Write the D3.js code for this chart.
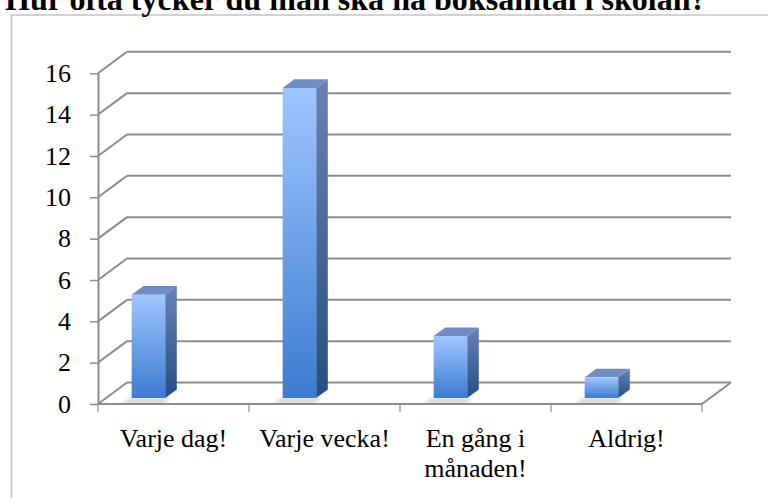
<!DOCTYPE html>
<html>
<head>
<meta charset="utf-8">
<script src="https://cdn.jsdelivr.net/npm/d3@7"></script>
<style>
  body { margin: 0; background: #fff; }
  svg { display: block; }
</style>
</head>
<body>
<svg id="chart" width="768" height="498"></svg>
<script>
// data
const title = "Hur ofta tycker du man ska ha boksamtal i skolan?";
const categories = ["Varje dag!", "Varje vecka!", "En gång i månaden!", "Aldrig!"];
const values = [5, 15, 3, 1];
const yTicks = [0, 2, 4, 6, 8, 10, 12, 14, 16];

let svg = d3.select("#chart"),
    width = 768,
    height = 498;

// front plane of the 3d box + depth vector
const plotLeft = 98, plotRight = 702, plotBottom = 404, plotTop = 73.3;
const dx = 29, dy = -21.5;
const gridColor = "#8c8c8c";
const labelFont = "'Liberation Serif', 'Times New Roman', serif";

let y = d3.scaleLinear().domain([0, 16]).range([plotBottom, plotTop]);
let x = d3.scaleBand().domain(categories).range([plotLeft, plotRight]).padding(0);

let defs = svg.append("defs");
let gFront = defs.append("linearGradient").attr("id", "gFront")
    .attr("x1", 0).attr("y1", 0).attr("x2", 0).attr("y2", 1);
gFront.append("stop").attr("offset", "0%").attr("stop-color", "#9fc6ff");
gFront.append("stop").attr("offset", "100%").attr("stop-color", "#3c7bd0");
let gSide = defs.append("linearGradient").attr("id", "gSide")
    .attr("x1", 0).attr("y1", 0).attr("x2", 0).attr("y2", 1);
gSide.append("stop").attr("offset", "0%").attr("stop-color", "#6783b5");
gSide.append("stop").attr("offset", "100%").attr("stop-color", "#284d84");
defs.append("filter").attr("id", "blur")
    .append("feGaussianBlur").attr("stdDeviation", 1.5);

// outer frame
svg.append("rect")
    .attr("x", 11.5).attr("y", 15)
    .attr("width", 820).attr("height", 600)
    .attr("fill", "none")
    .attr("stroke", "#c3c3c3")
    .attr("stroke-width", 1.5);

// title (cut at the top like in the picture)
let titleText = svg.append("text")
    .attr("x", 5).attr("y", 10)
    .style("font-family", labelFont)
    .style("font-weight", "bold")
    .style("font-size", "32px")
    .attr("fill", "#000")
    .text(title);
// stretch so it ends where the reference one does
let tw = titleText.node().getComputedTextLength();
titleText.style("font-size", (32 * 702 / tw) + "px");

// back wall gridlines and the side wall diagonals
let grid = svg.append("g")
    .attr("stroke", gridColor)
    .attr("stroke-width", 2)
    .attr("fill", "none");

grid.selectAll(".back")
    .data(yTicks)
    .enter()
    .append("line")
    .attr("x1", plotLeft + dx).attr("x2", plotRight + dx)
    .attr("y1", d => y(d) + dy).attr("y2", d => y(d) + dy);

grid.selectAll(".side")
    .data(yTicks)
    .enter()
    .append("line")
    .attr("x1", plotLeft).attr("x2", plotLeft + dx)
    .attr("y1", d => y(d)).attr("y2", d => y(d) + dy);

// floor right edge
grid.append("line")
    .attr("x1", plotRight).attr("x2", plotRight + dx)
    .attr("y1", y(0)).attr("y2", y(0) + dy);

// bars
const barW = x.bandwidth() * 0.222;
const bdx = 11.6, bdy = -8.6;
let bars = svg.append("g").selectAll("g")
    .data(categories.map((c, i) => ({cat: c, value: values[i]})))
    .enter()
    .append("g");

bars.each(function(d) {
    let g = d3.select(this);
    let bx = x(d.cat) + x.bandwidth() * 0.223;
    let yb = y(0) - 6;
    let yt = y(d.value) - 6;

    // soft shadow on the floor
    g.append("polygon")
        .attr("points", [[bx - 2, yb], [bx + barW + 6, yb], [bx + barW - 2, yb + 6], [bx - 10, yb + 6]].join(" "))
        .attr("fill", "#c8c8c8")
        .attr("opacity", 0.7)
        .attr("filter", "url(#blur)");

    g.append("polygon")
        .attr("points", [[bx + barW, yt], [bx + barW + bdx, yt + bdy], [bx + barW + bdx, yb + bdy], [bx + barW, yb]].join(" "))
        .attr("fill", "url(#gSide)");

    g.append("polygon")
        .attr("points", [[bx, yt], [bx + bdx, yt + bdy], [bx + barW + bdx, yt + bdy], [bx + barW, yt]].join(" "))
        .attr("fill", "#6f8dc4");

    g.append("rect")
        .attr("x", bx).attr("y", yt)
        .attr("width", barW).attr("height", yb - yt)
        .attr("fill", "url(#gFront)");
});

// y axis
let yAxis = svg.append("g")
    .attr("transform", `translate(${plotLeft},0)`)
    .call(d3.axisLeft(y).tickValues(yTicks).tickSize(8).tickSizeOuter(0).tickPadding(19));
yAxis.select(".domain").attr("stroke", gridColor).attr("stroke-width", 2);
yAxis.selectAll(".tick line").attr("stroke", gridColor).attr("stroke-width", 1.5);
yAxis.selectAll(".tick text")
    .style("font-family", labelFont)
    .style("font-size", "26px")
    .attr("fill", "#000");

// x axis: floor front edge, ticks between categories, wrapped labels
svg.append("line")
    .attr("x1", plotLeft).attr("x2", plotRight)
    .attr("y1", y(0)).attr("y2", y(0))
    .attr("stroke", gridColor).attr("stroke-width", 2);

let bounds = categories.map(c => x(c)).concat([plotRight]);
svg.append("g").selectAll("line")
    .data(bounds)
    .enter()
    .append("line")
    .attr("x1", d => d).attr("x2", d => d)
    .attr("y1", y(0)).attr("y2", y(0) + 8)
    .attr("stroke", gridColor).attr("stroke-width", 1.2);

let labels = svg.append("g").selectAll("text")
    .data(categories)
    .enter()
    .append("text")
    .attr("x", d => x(d) + x.bandwidth() / 2)
    .attr("y", 447)
    .attr("text-anchor", "middle")
    .style("font-family", labelFont)
    .style("font-size", "26px")
    .attr("fill", "#000")
    .text(d => d);

labels.each(function(d) {
    let t = d3.select(this);
    let words = d.split(" ");
    let maxW = x.bandwidth() - 10;
    t.text(null);
    let lines = [[]], cur = t.append("tspan").attr("x", t.attr("x"));
    words.forEach(w => {
        let line = lines[lines.length - 1];
        line.push(w);
        cur.text(line.join(" "));
        if (cur.node().getComputedTextLength() > maxW && line.length > 1) {
            line.pop();
            cur.text(line.join(" "));
            lines.push([w]);
            cur = t.append("tspan").attr("x", t.attr("x")).attr("dy", 30).text(w);
        }
    });
});
</script>
</body>
</html>
